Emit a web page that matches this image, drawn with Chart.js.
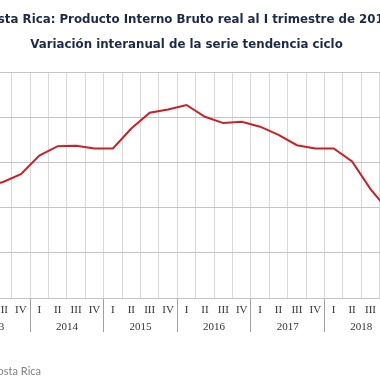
<!DOCTYPE html>
<html><head><meta charset="utf-8">
<script src="https://cdn.jsdelivr.net/npm/chart.js@4"></script>
<style>
html,body{margin:0;padding:0;width:380px;height:380px;overflow:hidden;background:#fff;position:relative}
#wrap{position:absolute;left:-100px;top:0;width:560px;height:380px}
#src{position:absolute;left:-259px;width:300px;text-align:right;top:364px;font:11px Lato, sans-serif;color:#808080;white-space:nowrap}
</style></head><body>
<div id="wrap"><canvas id="c"></canvas></div>
<div id="src">Fuente: Banco Central de Costa Rica</div>
<script>
const titleLines = ['Costa Rica: Producto Interno Bruto real al I trimestre de 2019',
                    'Variación interanual de la serie tendencia ciclo'];
const years = ['2013','2014','2015','2016','2017','2018','2019'];
const quarterLabels = ['I','II','III','IV','I','II','III','IV','I','II','III','IV',
                       'I','II','III','IV','I','II','III','IV','I','II','III','IV','I'];
const values = [2.40, 2.48, 2.56, 2.74,
                3.15, 3.36, 3.37, 3.31,
                3.31, 3.75, 4.10, 4.17,
                4.27, 4.01, 3.87, 3.90,
                3.79, 3.61, 3.38, 3.31,
                3.31, 3.02, 2.41, 1.92,
                null];
const yTicks = [0, 1, 2, 3, 4, 5];

// year centre positions in category-index units
const yearCenters = years.map((y, k) => {
  const first = k * 4;
  const last = Math.min(k * 4 + 3, quarterLabels.length - 1);
  return (first + last) / 2;
});

new Chart(document.getElementById('c'), {
  type: 'line',
  data: {
    labels: quarterLabels,
    datasets: [{
      data: values,
      borderColor: '#cc1f26',
      borderWidth: 2,
      pointRadius: 0,
      tension: 0,
      xAxisID: 'x',
      yAxisID: 'y'
    }]
  },
  options: {
    responsive: true,
    maintainAspectRatio: false,
    animation: false,
    devicePixelRatio: 1,
    layout: { padding: { left: 16.5, right: 43.5, top: 0, bottom: 0 } },
    plugins: {
      legend: { display: false },
      tooltip: { enabled: false },
      title: {
        display: true,
        text: titleLines,
        fullSize: false,
        color: '#1c2a48',
        font: { family: 'DejaVu Sans', weight: 'bold', size: 11.8, lineHeight: 25/11.8 },
        padding: { top: 7.5, bottom: 14.5 }
      }
    },
    scales: {
      x: {
        type: 'category',
        position: 'bottom',
        offset: true,
        grid: {
          offset: true,
          color: '#d9d9d9',
          tickColor: ctx => (ctx.index % 4 === 0 ? '#a0a0a0' : 'rgba(0,0,0,0)'),
          tickLength: 34
        },
        border: { display: true, color: '#c4c4c4' },
        ticks: {
          padding: -28,
          autoSkip: false,
          maxRotation: 0,
          color: '#333333',
          font: { family: 'Liberation Serif', size: 11 }
        },
        afterFit: s => { s.height = 20; }
      },
      x2: {
        type: 'linear',
        position: 'bottom',
        min: -0.5,
        max: quarterLabels.length - 0.5,
        afterBuildTicks: s => { s.ticks = yearCenters.map(v => ({ value: v })); },
        grid: { display: false, drawTicks: false },
        border: { display: false },
        ticks: {
          padding: 3,
          autoSkip: false,
          maxRotation: 0,
          color: '#333333',
          font: { family: 'Liberation Serif', size: 11 },
          callback: v => years[yearCenters.indexOf(v)]
        },
        afterFit: s => { s.height = 62; }
      },
      y: {
        min: 0,
        max: 5,
        afterBuildTicks: s => { s.ticks = yTicks.map(v => ({ value: v })); },
        grid: { color: '#c4c4c4', drawTicks: false },
        border: { display: false },
        ticks: { color: '#333333', font: { family: 'Liberation Serif', size: 11 }, callback: v => v.toFixed(1) },
        afterFit: s => { s.width = 40; }
      }
    }
  }
});
</script>
</body></html>
